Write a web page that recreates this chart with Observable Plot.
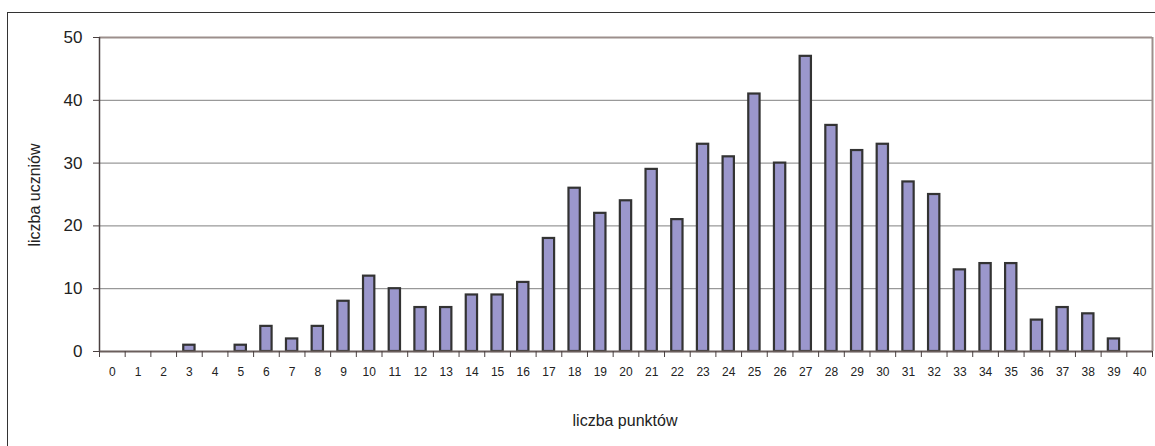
<!DOCTYPE html>
<html>
<head>
<meta charset="utf-8">
<script src="https://cdn.jsdelivr.net/npm/d3@7"></script>
<script src="https://cdn.jsdelivr.net/npm/@observablehq/plot@0.6"></script>
<style>
  html, body { margin: 0; padding: 0; background: #fff; }
  #wrap { position: relative; width: 1155px; height: 446px; overflow: hidden; font-family: "Liberation Sans", Arial, sans-serif; }
  #border { position: absolute; left: 7px; top: 12px; width: 1200px; height: 500px; border-left: 1.5px solid #333; border-top: 1.5px solid #333; box-sizing: border-box; }
  #chart { position: absolute; left: 0; top: 0; }
</style>
</head>
<body>
<div id="wrap"><div id="border"></div><div id="chart"></div></div>
<script>
const points = d3.range(0, 41);
const counts = [0,0,0,1,0,1,4,2,4,8,12,10,7,7,9,9,11,18,26,22,24,29,21,33,31,41,30,47,36,32,33,27,25,13,14,14,5,7,6,2,0];
const yTicks = [0,10,20,30,40,50];
const xTitle = "liczba punktów";
const yTitle = "liczba uczniów";

const data = points.map((p, i) => ({p, v: counts[i]}));
const half = 0.22;
const boundaries = d3.range(0, 42).map(k => k - 0.5);

const chart = Plot.plot({
  width: 1155,
  height: 446,
  marginLeft: 99,
  marginRight: 3,
  marginTop: 37,
  marginBottom: 95,
  style: {fontFamily: "Liberation Sans, Arial, sans-serif", background: "transparent", color: "#222"},
  x: {type: "linear", domain: [-0.5, 40.5], axis: null, label: null},
  y: {type: "linear", domain: [0, 50], axis: null, label: null},
  marks: [
    Plot.ruleY(yTicks.filter(t => t > 0 && t < 50), {stroke: "#808080", strokeWidth: 1, strokeOpacity: 1}),
    Plot.ruleY([50], {stroke: "#9c8f8c", strokeWidth: 2}),
    Plot.ruleX([40.5], {stroke: "#9c8f8c", strokeWidth: 2}),
    Plot.rectY(data.filter(d => d.v > 0), {
      x1: d => d.p - half, x2: d => d.p + half, y1: () => 0, y2: "v",
      fill: "#9b97cc", stroke: "#333", strokeWidth: 2.2
    }),
    Plot.ruleX([-0.5], {stroke: "#4a4040", strokeWidth: 1.5}),
    Plot.ruleY([0], {stroke: "#6a5e5c", strokeWidth: 2}),
    Plot.axisY(yTicks, {label: null, tickSize: 6, tickPadding: 11, fontSize: 17, stroke: "#4a4040", fill: "#222"}),
    Plot.axisX(boundaries, {label: null, tickSize: 6, tickFormat: () => "", stroke: "#4a4040"}),
    Plot.axisX(points, {label: null, tickSize: 0, tickPadding: 16, fontSize: 12, fill: "#222", tickFormat: d => String(d)})
  ]
});
document.getElementById("chart").appendChild(chart);

const svg = d3.select(chart);
svg.append("text").attr("x", 625).attr("y", 426).attr("text-anchor", "middle")
  .attr("font-size", 16).attr("fill", "#222").text(xTitle);
svg.append("text").attr("transform", "translate(40,195) rotate(-90)").attr("text-anchor", "middle")
  .attr("font-size", 16).attr("fill", "#222").text(yTitle);
</script>
</body>
</html>
